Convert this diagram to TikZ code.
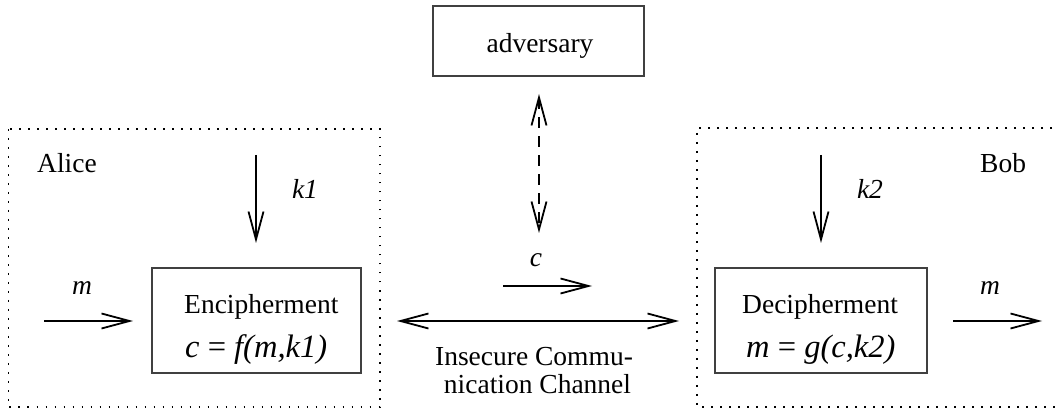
\documentclass[tikz,border=0pt]{standalone}
\usepackage{fontspec}
\setmainfont{Liberation Serif}
\usetikzlibrary{arrows.meta}
\tikzset{
  proc/.style={draw=black!75, line width=1.2pt, inner sep=0pt},
  region/.style={line width=1.6pt, dash pattern=on 1.8pt off 7.2pt},
  flow/.style={line width=1.8pt, -{Straight Barb[length=28pt,width=15pt]}},
  both/.style={line width=1.8pt, {Straight Barb[length=28pt,width=15pt]}-{Straight Barb[length=28pt,width=15pt]}},
  lbl/.style={anchor=base, inner sep=0pt},
  lbll/.style={anchor=base west, inner sep=0pt},
  formula/.style={anchor=base west, inner sep=0pt, font=\fontsize{32.5}{36}\selectfont},
}
\begin{document}
\begin{tikzpicture}[x=1pt, y=-1pt, font=\fontsize{27.5}{32}\selectfont]
\useasboundingbox (0,0) rectangle (1057,411);
\clip (0,0) rectangle (1057,411);

% Alice and Bob regions
\draw[region] (8.5,129) rectangle (380,407);
\draw[region] (1070,128) -- (697,128) -- (697,407) -- (1070,407);
\node[lbll] (alice) at (37,173) {Alice};
\node[lbll] (bob) at (980,173) {Bob};

% adversary
\node[proc, minimum width=211pt, minimum height=70pt] (adv) at (538.5,41) {};
\node[lbl] (advtxt) at (540,53) {adversary};

% encipherment
\node[proc, minimum width=209pt, minimum height=105pt] (enc) at (256.5,320.5) {};
\node[lbll] (enc1) at (184,314) {Encipherment};
\node[formula] (enc2) at (185,358) {\textit{c} = \textit{f(m,k1)}};

% decipherment
\node[proc, minimum width=212pt, minimum height=105pt] (dec) at (821,320.5) {};
\node[lbll] (dec1) at (742,314) {Decipherment};
\node[formula] (dec2) at (746,358) {\textit{m} = \textit{g(c,k2)}};

% key inputs
\coordinate (k1s) at (256,155);
\coordinate (k1e) at (256,243);
\draw[flow] (k1s) -- (k1e);
\node[lbl] (k1) at (305,199) {\textit{k1}};
\coordinate (k2s) at (821,155);
\coordinate (k2e) at (821,243);
\draw[flow] (k2s) -- (k2e);
\node[lbl] (k2) at (870,199) {\textit{k2}};

% plaintext in and out
\coordinate (mis) at (44,321);
\coordinate (mie) at (133,321);
\draw[flow] (mis) -- (mie);
\node[lbl] (m1) at (82,295) {\textit{m}};
\coordinate (mos) at (953,321);
\coordinate (moe) at (1042,321);
\draw[flow] (mos) -- (moe);
\node[lbl] (m2) at (990,295) {\textit{m}};

% channel
\coordinate (chl) at (397,321);
\coordinate (chr) at (679,321);
\draw[both] (chl) -- (chr);
\coordinate (cs) at (503,286);
\coordinate (ce) at (592,286);
\draw[flow] (cs) -- (ce);
\node[lbl] (c) at (536,267) {\textit{c}};
\node[lbl] (ch1) at (534,365) {Insecure Commu-};
\node[lbl] (ch2) at (537.5,393) {nication Channel};

% eavesdropping link
\coordinate (at) at (539,94);
\coordinate (ab) at (539,233);
\draw[both, dash pattern=on 11pt off 8pt] (at) -- (ab);
\end{tikzpicture}
\end{document}
